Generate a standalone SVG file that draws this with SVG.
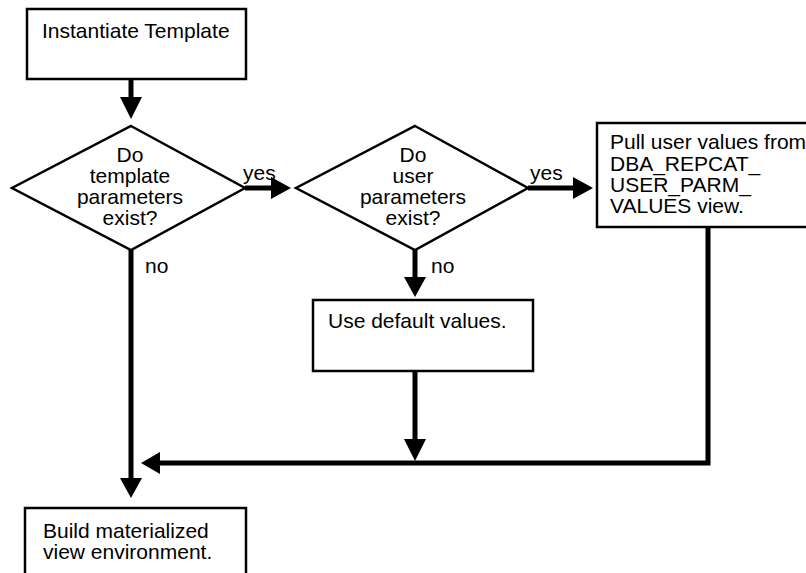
<svg xmlns="http://www.w3.org/2000/svg" width="806" height="573" viewBox="0 0 806 573">
<style>
.box{fill:#fff;stroke:#000;stroke-width:2.5}
.t{font-family:"Liberation Sans",Arial,Helvetica,sans-serif;font-size:21px;fill:#000}
.c{text-anchor:middle}
.ln{fill:none;stroke:#000;stroke-width:5}
.hd{fill:#000;stroke:none}
</style>
<rect width="806" height="573" fill="#fff"/>
<g id="connectors">
<line class="ln" x1="131" y1="79" x2="131" y2="99"/>
<polygon class="hd" points="120,97 142,97 131,119"/>
<line class="ln" x1="245" y1="188" x2="272" y2="188"/>
<polygon class="hd" points="271,177 271,199 291,188"/>
<line class="ln" x1="528" y1="188" x2="575" y2="188"/>
<polygon class="hd" points="573,177 573,199 593,188"/>
<line class="ln" x1="415" y1="250" x2="415" y2="279"/>
<polygon class="hd" points="404,277 426,277 415,297"/>
<line class="ln" x1="131" y1="250" x2="131" y2="480"/>
<polygon class="hd" points="120,478 142,478 131,498"/>
<polyline class="ln" points="708,227 708,463 158,463"/>
<polygon class="hd" points="160,452 160,474 141,463"/>
<line class="ln" x1="415" y1="371" x2="415" y2="441"/>
<polygon class="hd" points="404,439 426,439 415,461"/>
<text class="t" x="243" y="180">yes</text>
<text class="t" x="530" y="180">yes</text>
<text class="t" x="145" y="273">no</text>
<text class="t" x="431" y="273">no</text>
</g>
<g id="instantiate">
<rect class="box" x="27" y="9" width="219" height="70"/>
<text class="t" x="42" y="38">Instantiate Template</text>
</g>
<g id="template-params">
<polygon class="box" points="131,126 245,188 131,250 12,188"/>
<text class="t c" x="130" y="162">Do</text>
<text class="t c" x="130" y="183">template</text>
<text class="t c" x="130" y="204">parameters</text>
<text class="t c" x="130" y="225">exist?</text>
</g>
<g id="user-params">
<polygon class="box" points="415,126 528,188 415,250 296,188"/>
<text class="t c" x="413" y="162">Do</text>
<text class="t c" x="413" y="183">user</text>
<text class="t c" x="413" y="204">parameters</text>
<text class="t c" x="413" y="225">exist?</text>
</g>
<g id="pull-values">
<rect class="box" x="597" y="123" width="240" height="104"/>
<text class="t" x="610" y="149">Pull user values from</text>
<text class="t" x="610" y="171">DBA_REPCAT_</text>
<text class="t" x="610" y="192">USER_PARM_</text>
<text class="t" x="610" y="213">VALUES view.</text>
</g>
<g id="default-values">
<rect class="box" x="313" y="300" width="220" height="71"/>
<text class="t" x="328" y="328">Use default values.</text>
</g>
<g id="build">
<rect class="box" x="25" y="508" width="221" height="90"/>
<text class="t" x="43" y="538">Build materialized</text>
<text class="t" x="43" y="559">view environment.</text>
</g>
</svg>
